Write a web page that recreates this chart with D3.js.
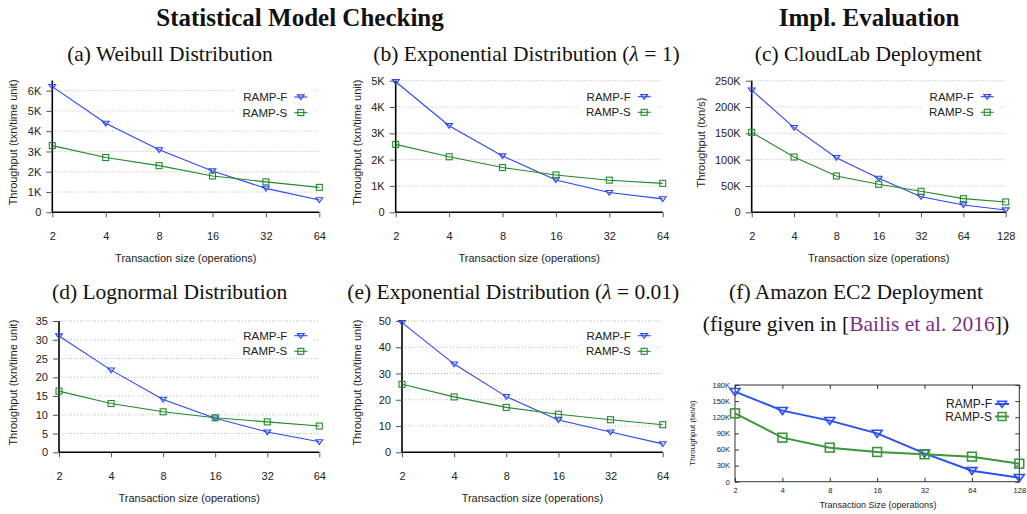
<!DOCTYPE html>
<html lang="en">
<head>
    <meta charset="UTF-8">
    <title>RAMP throughput</title>
    <style>
        body { margin: 0; background: #fff; }
        svg { display: block; }
        .serif { font-family: "Liberation Serif", "Times New Roman", serif; fill: #111; }
        .sans { font-family: "Liberation Sans", Arial, sans-serif; fill: #222; }
        .grid { stroke: #b8b8b8; stroke-width: 1; stroke-dasharray: 1,2; }
    </style>
</head>
<body>
    <div id="chart"></div>
    <script src="https://d3js.org/d3.v7.min.js"></script>
    <script>
        // Transaction sizes (x axis, log2)
        const sizes6 = [2, 4, 8, 16, 32, 64];
        const sizes7 = [2, 4, 8, 16, 32, 64, 128];

        // (a) Weibull distribution, txn/time unit
        const weibullF = [6200, 4390, 3080, 2040, 1180, 610];
        const weibullS = [3290, 2700, 2300, 1790, 1500, 1230];
        // (b) Exponential, lambda = 1
        const exp1F = [4960, 3290, 2140, 1230, 750, 510];
        const exp1S = [2580, 2110, 1700, 1420, 1220, 1100];
        // (c) CloudLab deployment, txn/s
        const cloudF = [232000, 160800, 103800, 64600, 29700, 13900, 4400];
        const cloudS = [151900, 105000, 69000, 53200, 39900, 25900, 19600];
        // (d) Lognormal distribution
        const lognF = [31.0, 21.9, 14.1, 9.1, 5.4, 2.8];
        const lognS = [16.3, 13.0, 10.8, 9.2, 8.1, 7.0];
        // (e) Exponential, lambda = 0.01
        const exp001F = [49.4, 33.6, 21.2, 12.3, 7.7, 3.2];
        const exp001S = [25.9, 21.1, 17.1, 14.5, 12.4, 10.5];
        // (f) Amazon EC2 deployment, txn/s
        const ec2F = [167700, 132300, 113700, 90000, 52800, 20500, 7500];
        const ec2S = [127300, 82000, 63400, 55300, 51000, 46600, 33500];

        // y tick values
        const ticksA = [0, 1000, 2000, 3000, 4000, 5000, 6000];
        const ticksB = [0, 1000, 2000, 3000, 4000, 5000];
        const ticksC = [0, 50000, 100000, 150000, 200000, 250000];
        const ticksD = [0, 5, 10, 15, 20, 25, 30, 35];
        const ticksE = [0, 10, 20, 30, 40, 50];
        const ticksF = [0, 30000, 60000, 90000, 120000, 150000, 180000];

        const seriesNames = ["RAMP-F", "RAMP-S"];
        const colF = "#2a46f2", colS = "#23892b";

        const kFormat = v => v === 0 ? "0" : (v >= 1000 ? (v / 1000) + "K" : String(v));

        const width = 1027, height = 514;
        const svg = d3.select("#chart").append("svg")
            .attr("width", width).attr("height", height);

        // headers
        svg.append("text").attr("class", "serif")
            .attr("x", 300).attr("y", 26).attr("text-anchor", "middle")
            .style("font-size", "25px").style("font-weight", "bold")
            .text("Statistical Model Checking");
        svg.append("text").attr("class", "serif")
            .attr("x", 869).attr("y", 26).attr("text-anchor", "middle")
            .style("font-size", "25px").style("font-weight", "bold")
            .text("Impl. Evaluation");

        // title given as [plain text, lambda value or null]
        const panels = [
            { title: ["(a) Weibull Distribution", null], titleX: 170, xs: sizes6, f: weibullF, s: weibullS, yMax: 6500, ticks: ticksA,
              left: 52.3, right: 319.3, bottom: 212.3, top: 80.5, titleY: 61, yTitle: "Throughput (txn/time unit)",
              yTitleX: 13, legendY: 97 },
            { title: ["(b) Exponential Distribution (", "1"], titleX: 526.5, xs: sizes6, f: exp1F, s: exp1S, yMax: 5000, ticks: ticksB,
              left: 395.7, right: 662.7, bottom: 212.3, top: 80.7, titleY: 61, yTitle: "Throughput (txn/time unit)",
              yTitleX: 357.3, legendY: 96.7 },
            { title: ["(c) CloudLab Deployment", null], titleX: 868.3, xs: sizes7, f: cloudF, s: cloudS, yMax: 250000, ticks: ticksC,
              left: 751.7, right: 1005.7, bottom: 212.3, top: 80.7, titleY: 61, yTitle: "Throughput (txn/s)",
              yTitleX: 700.7, legendY: 96.7 },
            { title: ["(d) Lognormal Distribution", null], titleX: 169.7, xs: sizes6, f: lognF, s: lognS, yMax: 35, ticks: ticksD,
              left: 59, right: 319.3, bottom: 452.3, top: 321, titleY: 299, yTitle: "Throughput (txn/time unit)",
              yTitleX: 13.3, legendY: 335.7 },
            { title: ["(e) Exponential Distribution (", "0.01"], titleX: 513.3, xs: sizes6, f: exp001F, s: exp001S, yMax: 50, ticks: ticksE,
              left: 402, right: 662.7, bottom: 452.3, top: 321, titleY: 299, yTitle: "Throughput (txn/time unit)",
              yTitleX: 357.3, legendY: 335.7 }
        ];

        function marker(g, kind, x, y, color, r, sw) {
            if (kind === 0) {
                g.append("path")
                    .attr("d", `M${x - r},${y - r * 0.62}L${x + r},${y - r * 0.62}L${x},${y + r * 0.78}Z`)
                    .attr("fill", "none").attr("stroke", color).attr("stroke-width", sw);
            } else {
                const h = r * 0.88;
                g.append("rect").attr("x", x - h).attr("y", y - h)
                    .attr("width", 2 * h).attr("height", 2 * h)
                    .attr("fill", "none").attr("stroke", color).attr("stroke-width", sw);
            }
        }

        panels.forEach(p => {
            const g = svg.append("g");
            const x = d3.scaleLog().base(2).domain([2, p.xs[p.xs.length - 1]]).range([p.left, p.right]);
            const y = d3.scaleLinear().domain([0, p.yMax]).range([p.bottom, p.top]);

            // title
            const t = g.append("text").attr("class", "serif")
                .attr("x", p.titleX).attr("y", p.titleY)
                .attr("text-anchor", "middle").style("font-size", "21.5px");
            t.append("tspan").text(p.title[0]);
            if (p.title[1] !== null) {
                t.append("tspan").style("font-style", "italic").text("λ");
                t.append("tspan").text(" = " + p.title[1] + ")");
            }

            // grid
            g.selectAll(".grid").data(p.ticks.filter(t => t > 0)).enter()
                .append("line").attr("class", "grid")
                .attr("x1", p.left).attr("x2", p.right)
                .attr("y1", d => y(d)).attr("y2", d => y(d));

            // axes
            const yAxis = d3.axisLeft(y).tickValues(p.ticks).tickFormat(kFormat).tickSize(6).tickPadding(5);
            const xAxis = d3.axisBottom(x).tickValues(p.xs).tickFormat(d3.format("d")).tickSize(5).tickPadding(15);
            const ya = g.append("g").attr("transform", `translate(${p.left},0)`).call(yAxis);
            const xa = g.append("g").attr("transform", `translate(0,${p.bottom})`).call(xAxis);
            [ya, xa].forEach(a => {
                a.select(".domain").attr("stroke", "#000").attr("stroke-width", 1.6);
                a.selectAll(".tick line").attr("stroke", "#555");
                a.selectAll("text").attr("class", "sans").style("font-size", "11px").attr("fill", "#222");
            });
            ya.select(".domain").attr("d", `M0,${p.bottom}V${p.top}`);
            xa.select(".domain").attr("d", `M${p.left},0H${p.right}`);

            // axis titles
            g.append("text").attr("class", "sans")
                .attr("transform", `translate(${p.yTitleX + 4},${(p.bottom + p.top) / 2 - 4}) rotate(-90)`)
                .attr("text-anchor", "middle").style("font-size", "11px")
                .text(p.yTitle);
            g.append("text").attr("class", "sans")
                .attr("x", (p.left + p.right) / 2).attr("y", p.bottom + 50)
                .attr("text-anchor", "middle").style("font-size", "11px")
                .text("Transaction size (operations)");

            // series
            [p.f, p.s].forEach((vals, k) => {
                const col = k === 0 ? colF : colS;
                const pts = vals.map((v, i) => [x(p.xs[i]), y(v)]);
                g.append("path").attr("d", d3.line()(pts))
                    .attr("fill", "none").attr("stroke", col).attr("stroke-width", 1.1);
                pts.forEach(q => marker(g, k, q[0], q[1], col, 3.4, 1.1));
            });

            // legend
            seriesNames.forEach((name, k) => {
                const col = k === 0 ? colF : colS;
                const ly = p.legendY + k * 15.6;
                const lx = p.right - 32;
                g.append("rect").attr("x", lx - 52).attr("y", ly - 7).attr("width", 78).attr("height", 14).attr("fill", "#fff");
                g.append("text").attr("class", "sans")
                    .attr("x", lx).attr("y", ly + 4).attr("text-anchor", "end")
                    .style("font-size", "11.5px").text(name);
                g.append("line").attr("x1", lx + 7).attr("x2", lx + 20).attr("y1", ly).attr("y2", ly)
                    .attr("stroke", col).attr("stroke-width", 1.1);
                marker(g, k, lx + 13.5, ly, col, 3.4, 1.1);
            });
        });

        // (f) Amazon EC2, reproduced in the boxed gnuplot style
        (function () {
            const left = 735, right = 1019.3, bottom = 481.7, top = 385;
            const g = svg.append("g");
            const x = d3.scaleLog().base(2).domain([2, 128]).range([left, right]);
            const y = d3.scaleLinear().domain([0, 180000]).range([bottom, top]);

            g.append("text").attr("class", "serif").attr("x", 856).attr("y", 299)
                .attr("text-anchor", "middle").style("font-size", "21.5px")
                .text("(f) Amazon EC2 Deployment");
            const t2 = g.append("text").attr("class", "serif").attr("x", 856).attr("y", 331)
                .attr("text-anchor", "middle").style("font-size", "21.5px");
            t2.append("tspan").text("(figure given in [");
            t2.append("tspan").style("fill", "#7b2f8a").text("Bailis et al. 2016");
            t2.append("tspan").text("])");

            g.append("rect").attr("x", left).attr("y", top).attr("width", right - left).attr("height", bottom - top)
                .attr("fill", "none").attr("stroke", "#333").attr("stroke-width", 1);

            const yAxis = d3.axisLeft(y).tickValues(ticksF).tickFormat(kFormat).tickSize(-4).tickPadding(5);
            const yAxisR = d3.axisRight(y).tickValues(ticksF).tickFormat("").tickSize(-4);
            const xAxis = d3.axisBottom(x).tickValues(sizes7).tickFormat(d3.format("d")).tickSize(-4).tickPadding(6);
            const xAxisT = d3.axisTop(x).tickValues(sizes7).tickFormat("").tickSize(-4);
            const axes = [
                g.append("g").attr("transform", `translate(${left},0)`).call(yAxis),
                g.append("g").attr("transform", `translate(${right},0)`).call(yAxisR),
                g.append("g").attr("transform", `translate(0,${bottom})`).call(xAxis),
                g.append("g").attr("transform", `translate(0,${top})`).call(xAxisT)
            ];
            axes.forEach(a => {
                a.select(".domain").remove();
                a.selectAll(".tick line").attr("stroke", "#333");
                a.selectAll("text").attr("class", "sans").style("font-size", "7.5px").attr("fill", "#222");
            });

            g.append("text").attr("class", "sans")
                .attr("transform", `translate(694.5,433) rotate(-90)`)
                .attr("text-anchor", "middle").style("font-size", "8px")
                .text("Throughput (txn/s)");
            g.append("text").attr("class", "sans")
                .attr("x", 878).attr("y", 508).attr("text-anchor", "middle").style("font-size", "9px")
                .text("Transaction Size (operations)");

            const cols = ["#2b4ef5", "#3a963a"];
            [ec2F, ec2S].forEach((vals, k) => {
                const pts = vals.map((v, i) => [x(sizes7[i]), y(v)]);
                g.append("path").attr("d", d3.line()(pts))
                    .attr("fill", "none").attr("stroke", cols[k]).attr("stroke-width", 2);
                pts.forEach(q => marker(g, k, q[0], q[1], cols[k], 5, 1.6));
            });

            seriesNames.forEach((name, k) => {
                const ly = 404 + k * 12.5;
                g.append("text").attr("class", "sans")
                    .attr("x", 992).attr("y", ly + 4.3).attr("text-anchor", "end")
                    .style("font-size", "12px").text(name);
                g.append("line").attr("x1", 995).attr("x2", 1009).attr("y1", ly).attr("y2", ly)
                    .attr("stroke", cols[k]).attr("stroke-width", 2);
                marker(g, k, 1002, ly, cols[k], 4.5, 1.5);
            });
        })();
    </script>
</body>
</html>
